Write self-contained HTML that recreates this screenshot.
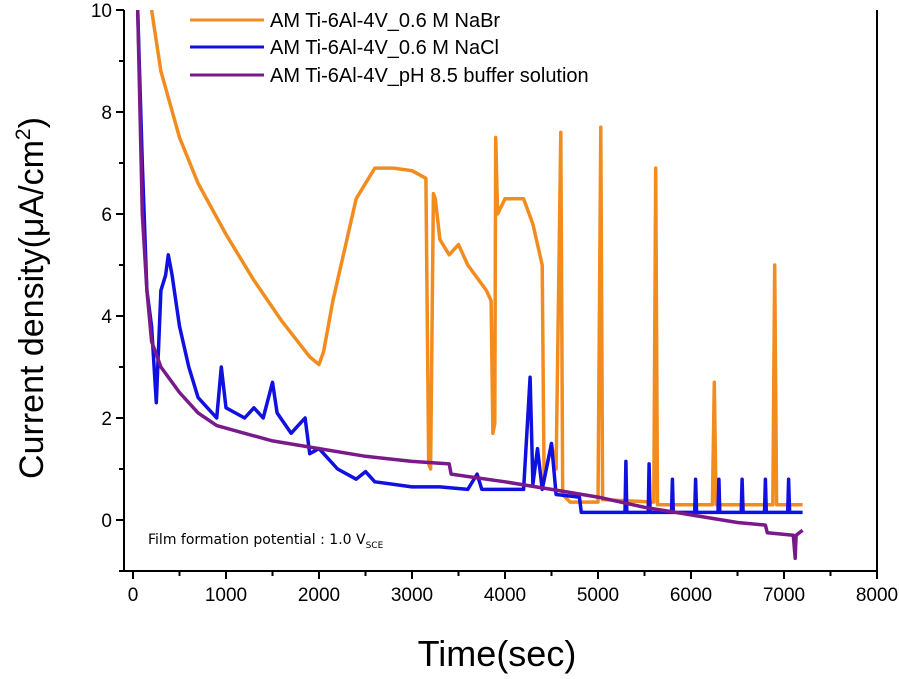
<!DOCTYPE html>
<html><head><meta charset="utf-8"><style>
body{margin:0;background:#fff;width:899px;height:674px;overflow:hidden;font-family:"Liberation Sans",sans-serif}
</style></head><body>
<svg id="chart" width="899" height="674" xmlns="http://www.w3.org/2000/svg" font-family="Liberation Sans, sans-serif"></svg>
<script>
const xTicks=[0,1000,2000,3000,4000,5000,6000,7000,8000];
const yTicks=[0,2,4,6,8,10];
const nabrT=[200,300,500,700,1000,1300,1600,1900,2000,2050,2150,2300,2400,2600,2800,3000,3150,3180,3200,3230,3250,3300,3400,3500,3600,3800,3850,3870,3890,3900,3920,4000,4200,4300,4400,4420,4500,4550,4600,4620,4700,5000,5030,5050,5600,5620,5640,6230,6250,6270,6880,6900,6920,7200];
const nabrY=[10,8.8,7.5,6.6,5.6,4.7,3.9,3.2,3.05,3.3,4.3,5.5,6.3,6.9,6.9,6.85,6.7,1.1,1.0,6.4,6.3,5.5,5.2,5.4,5.0,4.5,4.3,1.7,1.9,7.5,6.0,6.3,6.3,5.8,5.0,0.8,1.5,1.0,7.6,0.5,0.35,0.35,7.7,0.4,0.35,6.9,0.3,0.3,2.7,0.3,0.3,5.0,0.3,0.3];
const naclT=[50,100,150,200,250,300,350,380,420,500,600,700,800,900,950,1000,1100,1200,1300,1400,1500,1550,1700,1800,1850,1900,2000,2200,2400,2500,2600,3000,3300,3600,3700,3750,4000,4200,4270,4300,4350,4400,4500,4550,4800,4820,5000,5290,5300,5310,5540,5550,5560,5790,5800,5810,6040,6050,6060,6290,6300,6310,6540,6550,6560,6790,6800,6810,7040,7050,7060,7200];
const naclY=[10,7,4.5,3.8,2.3,4.5,4.8,5.2,4.8,3.8,3.0,2.4,2.2,2.0,3.0,2.2,2.1,2.0,2.2,2.0,2.7,2.1,1.7,1.9,2.0,1.3,1.4,1.0,0.8,0.95,0.75,0.65,0.65,0.6,0.9,0.6,0.6,0.6,2.8,0.7,1.4,0.6,1.5,0.5,0.45,0.15,0.15,0.15,1.15,0.15,0.15,1.1,0.15,0.15,0.8,0.15,0.15,0.8,0.15,0.15,0.8,0.15,0.15,0.8,0.15,0.15,0.8,0.15,0.15,0.8,0.15,0.15];
const phT=[50,100,150,200,300,500,700,900,1200,1500,2000,2500,3000,3400,3420,4000,4500,5000,5500,6000,6500,6800,6820,7100,7120,7130,7200];
const phY=[10,6,4.5,3.5,3.0,2.5,2.1,1.85,1.7,1.55,1.4,1.25,1.15,1.1,0.9,0.75,0.6,0.45,0.25,0.1,-0.05,-0.1,-0.25,-0.3,-0.75,-0.3,-0.2];
const NS="http://www.w3.org/2000/svg";
const svg=document.getElementById('chart');
const X0=124,X1=877,Y0=571,Y1=10;
const xs=t=>133+t*0.0930;
const ys=v=>520-v*51;
function el(tag,a,p){const e=document.createElementNS(NS,tag);for(const k in a)e.setAttribute(k,a[k]);(p||svg).appendChild(e);return e;}
const clip=el('clipPath',{id:'pc'});el('rect',{x:X0,y:Y1,width:X1-X0,height:Y0-Y1},clip);
function series(T,Y,color,name){
  const d=T.map((t,i)=>(i?'L':'M')+xs(t).toFixed(1)+','+ys(Y[i]).toFixed(1)).join('');
  const p=el('path',{d:d,fill:'none',stroke:color,'stroke-width':3.5,'stroke-linejoin':'round','clip-path':'url(#pc)'});
  
  
}
series(nabrT,nabrY,'#f28c1e','nabr-series');
series(naclT,naclY,'#1010e0','nacl-series');
series(phT,phY,'#7a1a8a','ph-buffer-series');
const fr=el('path',{d:`M${X0},${Y1}V${Y0}H${X1}V${Y1}`,fill:'none',stroke:'#000','stroke-width':2});


xTicks.forEach((t,i)=>{
  el('line',{x1:xs(t),x2:xs(t),y1:Y0,y2:Y0+8,stroke:'#000','stroke-width':2});
  if(i<xTicks.length-1)el('line',{x1:xs(t+500),x2:xs(t+500),y1:Y0,y2:Y0+5,stroke:'#000','stroke-width':2});
  const tx=el('text',{x:xs(t),y:Y0+30,'text-anchor':'middle','font-size':19});
  tx.textContent=t;
  
  
});
yTicks.forEach(v=>{
  el('line',{x1:X0,x2:X0-8,y1:ys(v),y2:ys(v),stroke:'#000','stroke-width':2});
  el('line',{x1:X0,x2:X0-5,y1:ys(v-1),y2:ys(v-1),stroke:'#000','stroke-width':2});
  const tx=el('text',{x:X0-12,y:ys(v)+7,'text-anchor':'end','font-size':19});
  tx.textContent=v;
  
  
});
</script>
<svg style="position:absolute;left:0;top:0" width="899" height="674">
<g font-family="Liberation Sans, sans-serif" font-size="20">
<g><line x1="190" x2="264" y1="20" y2="20" stroke="#f28c1e" stroke-width="3"/><text x="270" y="27">AM Ti-6Al-4V_0.6 M NaBr</text></g>
<g><line x1="190" x2="264" y1="47" y2="47" stroke="#1010e0" stroke-width="3"/><text x="270" y="54">AM Ti-6Al-4V_0.6 M NaCl</text></g>
<g><line x1="190" x2="264" y1="75" y2="75" stroke="#7a1a8a" stroke-width="3"/><text x="270" y="82">AM Ti-6Al-4V_pH 8.5 buffer solution</text></g>
</g>
<text x="148" y="544" font-family="DejaVu Sans, sans-serif" font-size="14">Film formation potential : 1.0 V<tspan font-size="9" dy="4">SCE</tspan></text>
<text x="497" y="666" text-anchor="middle" font-family="Liberation Sans, sans-serif" font-size="36">Time(sec)</text>
<text transform="translate(43,298) rotate(-90)" text-anchor="middle" font-family="Liberation Sans, sans-serif" font-size="34">Current density(μA/cm<tspan font-size="21" dy="-13">2</tspan><tspan dy="13">)</tspan></text>
</svg>
</body></html>
